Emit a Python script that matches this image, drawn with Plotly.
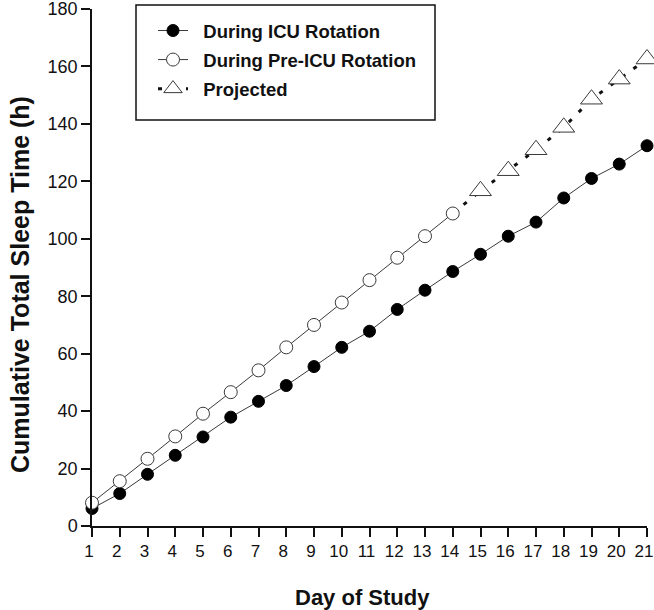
import plotly.graph_objects as go

# ---- data ----
icu_days = list(range(1, 22))
icu_sleep = [6.1, 11.3, 18.0, 24.6, 31.0, 37.9, 43.4, 48.9, 55.5, 62.2, 67.8,
             75.4, 82.1, 88.6, 94.6, 100.9, 105.8, 114.2, 121.0, 126.0, 132.4]
pre_days = list(range(1, 15))
pre_sleep = [8.1, 15.6, 23.4, 31.2, 39.1, 46.6, 54.2, 62.2, 70.0, 77.8, 85.6,
             93.4, 100.9, 108.8]
proj_days = list(range(15, 22))
proj_sleep = [116.7, 123.7, 131.0, 138.8, 148.6, 155.6, 162.6]
x_ticks = list(range(1, 22))
y_ticks = list(range(0, 181, 20))

FONT = "Liberation Sans, Arial, sans-serif"
LINE = "#3a3a3a"
INK = "#111111"
NB = "\u00a0\u00a0"

fig = go.Figure()

# connector from last pre-ICU point to first projected point
fig.add_trace(go.Scatter(
    x=[pre_days[-1], proj_days[0]], y=[pre_sleep[-1], proj_sleep[0]],
    mode="lines", line=dict(color=INK, width=3, dash="4px,10px"),
    showlegend=False, hoverinfo="skip", cliponaxis=False))

fig.add_trace(go.Scatter(
    x=icu_days, y=icu_sleep, mode="lines+markers", name=NB + "During ICU Rotation",
    legendgroup="icu",
    line=dict(color=LINE, width=1),
    marker=dict(symbol="circle", size=12, color="black", line=dict(color="black", width=1)),
    cliponaxis=False))

fig.add_trace(go.Scatter(
    x=pre_days, y=pre_sleep, mode="lines+markers", name=NB + "During Pre-ICU Rotation",
    legendgroup="pre",
    line=dict(color=LINE, width=1),
    marker=dict(symbol="circle", size=13, color="white", line=dict(color=LINE, width=1)),
    cliponaxis=False))

fig.add_trace(go.Scatter(
    x=proj_days, y=proj_sleep, mode="lines+markers", name=NB + "Projected",
    legendgroup="proj",
    line=dict(color=INK, width=3, dash="4px,10px"),
    marker=dict(symbol="triangle-up", size=19, color="white", line=dict(color=LINE, width=1)),
    cliponaxis=False))

W, H = 654, 610
# plot area in window pixels
PX0, PX1, PY0, PY1 = 92, 647, 9, 526
L, R, T, B = PX0, W - PX1, PY0, H - PY1
pw, ph = PX1 - PX0, PY1 - PY0


def px_x(p):
    return (p - PX0) / pw


def px_y(p):
    return (PY1 - p) / ph


axis_common = dict(ticks="outside", ticklen=9, tickwidth=1.5, tickcolor=INK,
                   showline=True, linecolor=INK, linewidth=1.5, showgrid=False,
                   zeroline=False, automargin=False, ticklabeloverflow="allow")

fig.update_layout(
    width=W, height=H,
    margin=dict(l=L, r=R, t=T, b=B, pad=0),
    paper_bgcolor="white", plot_bgcolor="white",
    font=dict(family=FONT, color=INK),
    xaxis=dict(range=[1, 21], tickvals=x_ticks, ticklabelshift=-3,
               tickfont=dict(family=FONT, size=17, color=INK), **axis_common),
    yaxis=dict(range=[0, 180], tickvals=y_ticks,
               tickfont=dict(family=FONT, size=18, color=INK), **axis_common),
    legend=dict(x=px_x(153), y=px_y(12), xanchor="left", yanchor="top",
                bgcolor="rgba(0,0,0,0)", borderwidth=0,
                font=dict(family=FONT, size=18.5, color=INK, weight="bold"),
                tracegroupgap=2, traceorder="grouped"),
    shapes=[dict(type="rect", xref="paper", yref="paper",
                 x0=px_x(136), x1=px_x(435), y0=px_y(120), y1=px_y(5),
                 line=dict(color=INK, width=1.5), fillcolor="rgba(0,0,0,0)")],
    annotations=[
        dict(text="<b>Day of Study</b>", xref="paper", yref="paper",
             x=px_x(362), y=px_y(597), xanchor="center", yanchor="middle",
             showarrow=False, font=dict(family=FONT, size=22, color=INK)),
        dict(text="<b>Cumulative Total Sleep Time (h)</b>", xref="paper", yref="paper",
             x=px_x(20), y=px_y(285), xanchor="center", yanchor="middle",
             textangle=-90, showarrow=False,
             font=dict(family=FONT, size=25, color=INK)),
    ],
)

# remove the browser's default 8px body margin so the figure fills the window
fig.write_html("out.html", config={"displayModeBar": False},
               post_script="document.body.style.margin='0';")
